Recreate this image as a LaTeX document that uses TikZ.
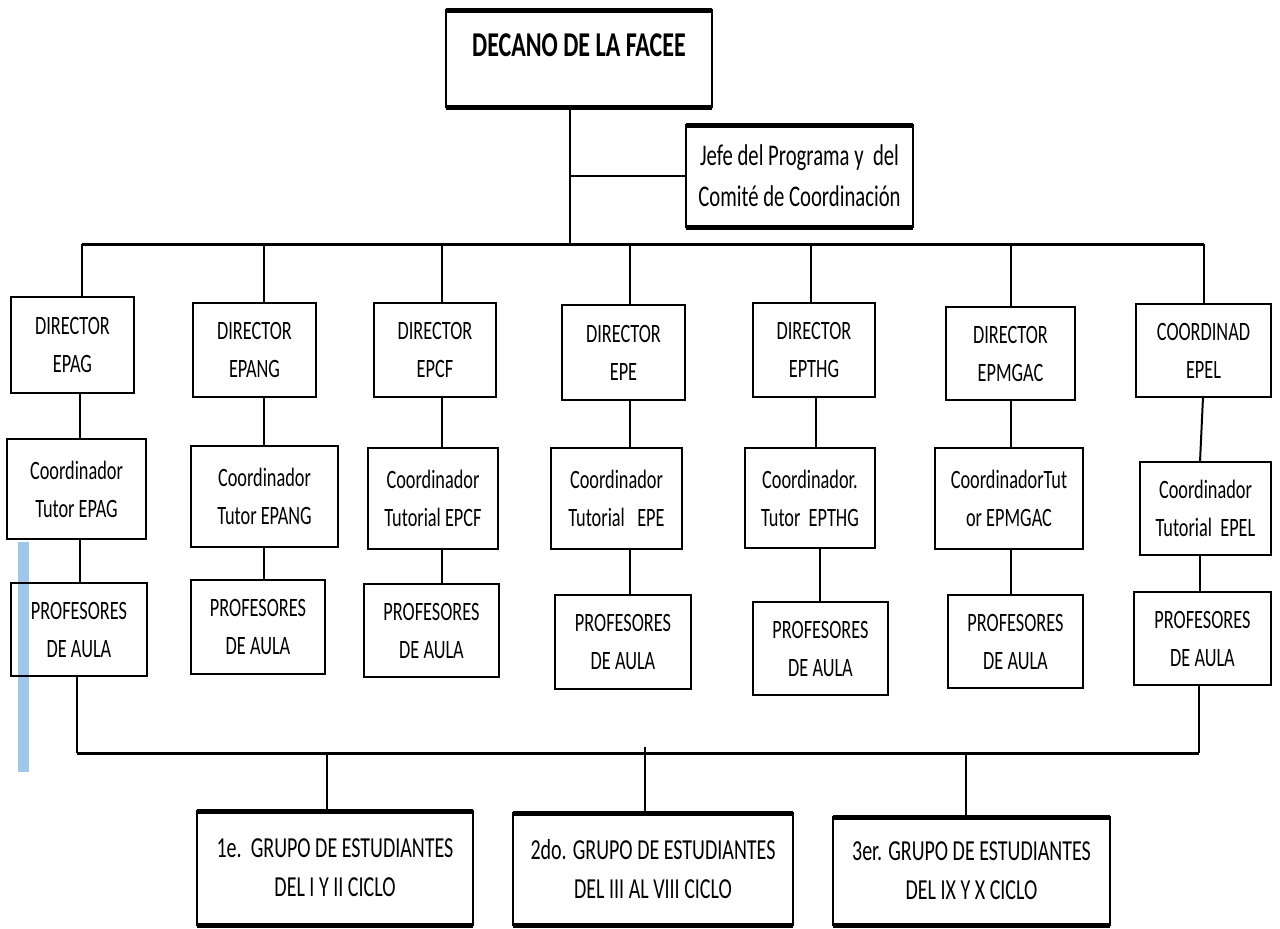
\documentclass[tikz,border=0pt]{standalone}
\usepackage{fontspec}
\setmainfont{Carlito}[FakeStretch=0.69]
\definecolor{lightblue}{RGB}{160,198,234}
\begin{document}
\begin{tikzpicture}[x=1pt,y=-1pt,
  box/.style={draw=black,line width=2.6pt,inner sep=0pt,outer sep=0pt,align=center,
    font=\fontsize{26.5}{38}\selectfont},
  bigtext/.style={font=\fontsize{29}{39}\selectfont},
  jefetext/.style={font=\fontsize{30}{41}\selectfont},
  conn/.style={draw=black,line width=2pt},
  bar/.style={draw=black,line width=3pt},
  thickedge/.style={draw=black,line width=5pt}]
\useasboundingbox (0,0) rectangle (1280,929);
\fill[white] (0,0) rectangle (1280,929);
% blue bar
\fill[lightblue] (18,542) rectangle (29,772);
% top
\node[box,minimum width=266pt,minimum height=97pt] (dec) at (579,58.5) {};
\node[font=\bfseries\fontsize{34.8}{40}\selectfont,inner sep=0pt] (dect) at (579,45) {DECANO DE LA FACEE};
\node[box,jefetext,minimum width=227pt,minimum height=102pt] (jefe) at (799.5,176) {Jefe del Programa y\ \ del\\Comité de Coordinación};
% directors
\node[box,minimum width=123pt,minimum height=96pt] (d1) at (72.5,345) {DIRECTOR\\EPAG};
\node[box,minimum width=123pt,minimum height=94pt] (d2) at (254.5,350) {DIRECTOR\\EPANG};
\node[box,minimum width=122pt,minimum height=94pt] (d3) at (435,350) {DIRECTOR\\EPCF};
\node[box,minimum width=123pt,minimum height=95pt] (d4) at (623.5,352.5) {DIRECTOR\\EPE};
\node[box,minimum width=122pt,minimum height=94pt] (d5) at (814,350) {DIRECTOR\\EPTHG};
\node[box,minimum width=129pt,minimum height=93pt] (d6) at (1010.5,353.5) {DIRECTOR\\EPMGAC};
\node[box,minimum width=135pt,minimum height=93pt] (d7) at (1203.5,350.5) {COORDINAD\\EPEL};
% coordinators
\node[box,minimum width=139pt,minimum height=100pt] (c1) at (76.5,489) {Coordinador\\Tutor EPAG};
\node[box,minimum width=147pt,minimum height=101pt] (c2) at (264.5,496.5) {Coordinador\\Tutor EPANG};
\node[box,minimum width=130pt,minimum height=101pt] (c3) at (433,498.5) {Coordinador\\Tutorial EPCF};
\node[box,minimum width=131pt,minimum height=101pt] (c4) at (616.5,498.5) {Coordinador\\Tutorial\ \ \ EPE};
\node[box,minimum width=130pt,minimum height=100pt] (c5) at (810,498) {Coordinador.\\Tutor\ \ EPTHG};
\node[box,minimum width=148pt,minimum height=101pt] (c6) at (1009,498.5) {CoordinadorTut\\or EPMGAC};
\node[box,minimum width=131pt,minimum height=93pt] (c7) at (1205.5,508.5) {Coordinador\\Tutorial\ \ EPEL};
% profesores
\node[box,minimum width=136pt,minimum height=93pt] (p1) at (79,629.5) {PROFESORES\\DE AULA};
\node[box,minimum width=134pt,minimum height=94pt] (p2) at (258,627) {PROFESORES\\DE AULA};
\node[box,minimum width=135pt,minimum height=93pt] (p3) at (431.5,630.5) {PROFESORES\\DE AULA};
\node[box,minimum width=136pt,minimum height=94pt] (p4) at (623,642) {PROFESORES\\DE AULA};
\node[box,minimum width=135pt,minimum height=93pt] (p5) at (820.5,648.5) {PROFESORES\\DE AULA};
\node[box,minimum width=135pt,minimum height=93pt] (p6) at (1015.5,641.5) {PROFESORES\\DE AULA};
\node[box,minimum width=137pt,minimum height=93pt] (p7) at (1202.5,638.5) {PROFESORES\\DE AULA};
% groups
\node[box,bigtext,minimum width=276pt,minimum height=114pt] (g1) at (335,868) {1e.\ \ GRUPO DE ESTUDIANTES\\DEL I Y II CICLO};
\node[box,bigtext,minimum width=280pt,minimum height=112pt] (g2) at (653,869) {2do. GRUPO DE ESTUDIANTES\\DEL III AL VIII CICLO};
\node[box,bigtext,minimum width=277pt,minimum height=108pt] (g3) at (971.5,871) {3er. GRUPO DE ESTUDIANTES\\DEL IX Y X CICLO};
% thick top/bottom edges
\foreach \n in {dec,jefe,g1,g2,g3}{
  \draw[thickedge] (\n.north west) -- (\n.north east);
  \draw[thickedge] (\n.south west) -- (\n.south east);
}
% coordinates
\coordinate (main) at (569.5,0);
\coordinate (barL) at (82,244);
\coordinate (barR) at (1204,244);
\coordinate (lowL) at (77,753);
\coordinate (lowR) at (1199,753);
\coordinate (x1) at (80,0);
\coordinate (x2) at (264,0);
\coordinate (x3) at (442,0);
\coordinate (x4) at (630,0);
\coordinate (x5a) at (811,0);
\coordinate (x5b) at (816,0);
\coordinate (x5c) at (820,0);
\coordinate (x6) at (1011,0);
\coordinate (x7) at (1203,0);
\coordinate (x7b) at (1200,0);
\coordinate (y1) at (327,0);
\coordinate (y2) at (645,0);
\coordinate (y3) at (966,0);
% top connectors
\draw[conn] (dec.south -| main) -- (main |- barL);
\draw[conn] (main |- jefe.west) -- (jefe.west);
\draw[bar] (barL) -- (barR);
\draw[conn] (barL) -- (barL |- d1.north);
\draw[conn] (x2 |- barL) -- (x2 |- d2.north);
\draw[conn] (x3 |- barL) -- (x3 |- d3.north);
\draw[conn] (x4 |- barL) -- (x4 |- d4.north);
\draw[conn] (x5a |- barL) -- (x5a |- d5.north);
\draw[conn] (x6 |- barL) -- (x6 |- d6.north);
\draw[conn] (barR) -- (barR |- d7.north);
% director -> coordinator
\draw[conn] (x1 |- d1.south) -- (x1 |- c1.north);
\draw[conn] (x2 |- d2.south) -- (x2 |- c2.north);
\draw[conn] (x3 |- d3.south) -- (x3 |- c3.north);
\draw[conn] (x4 |- d4.south) -- (x4 |- c4.north);
\draw[conn] (x5b |- d5.south) -- (x5b |- c5.north);
\draw[conn] (x6 |- d6.south) -- (x6 |- c6.north);
\draw[conn] (x7 |- d7.south) -- (x7b |- c7.north);
% coordinator -> profesores
\draw[conn] (x1 |- c1.south) -- (x1 |- p1.north);
\draw[conn] (x2 |- c2.south) -- (x2 |- p2.north);
\draw[conn] (x3 |- c3.south) -- (x3 |- p3.north);
\draw[conn] (x4 |- c4.south) -- (x4 |- p4.north);
\draw[conn] (x5c |- c5.south) -- (x5c |- p5.north);
\draw[conn] (x6 |- c6.south) -- (x6 |- p6.north);
\draw[conn] (x7b |- c7.south) -- (x7b |- p7.north);
% bottom bar
\draw[conn] (lowL |- p1.south) -- (lowL);
\draw[conn] (lowR |- p7.south) -- (lowR);
\draw[bar] (lowL) -- (lowR);
\draw[conn] (y1 |- lowL) -- (y1 |- g1.north);
\draw[conn] ([yshift=6pt]y2 |- lowL) -- (y2 |- g2.north);
\draw[conn] (y3 |- lowL) -- (y3 |- g3.north);
\end{tikzpicture}
\end{document}
